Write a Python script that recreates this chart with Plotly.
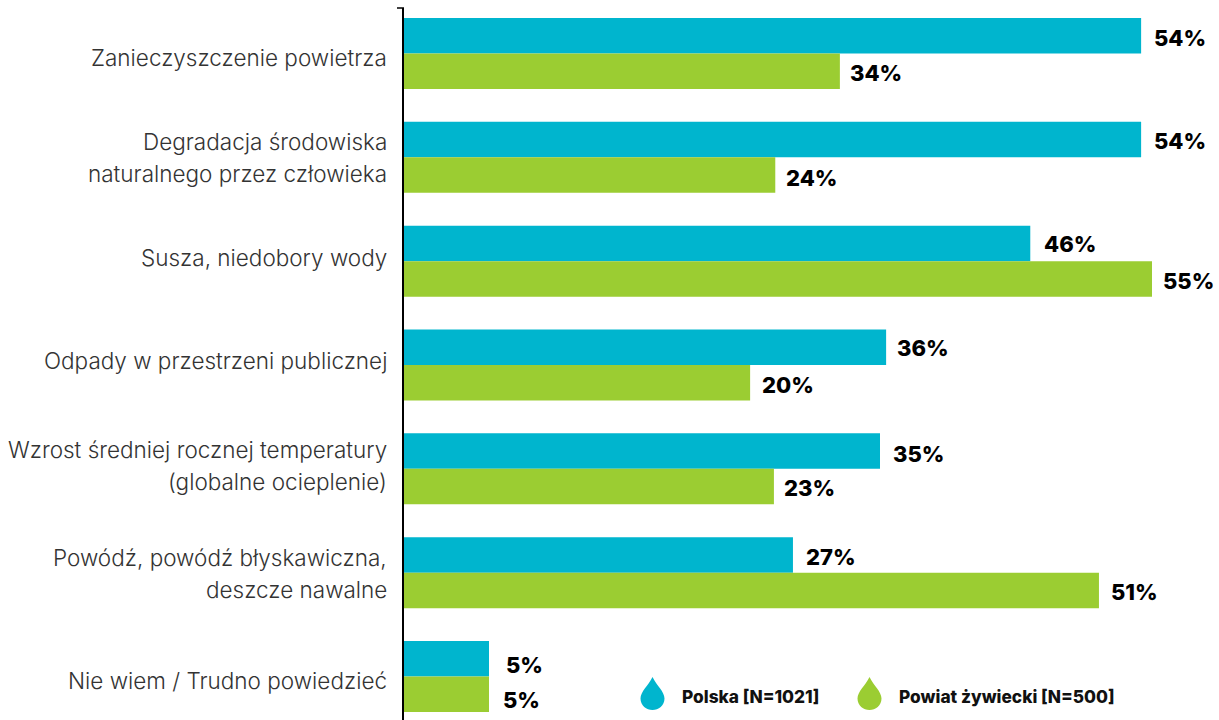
import plotly.graph_objects as go

categories = [
    "Zanieczyszczenie powietrza",
    "Degradacja środowiska<br>naturalnego przez człowieka",
    "Susza, niedobory wody",
    "Odpady w przestrzeni publicznej",
    "Wzrost średniej rocznej temperatury<br>(globalne ocieplenie)",
    "Powódź, powódź błyskawiczna,<br>deszcze nawalne",
    "Nie wiem / Trudno powiedzieć",
]
# Bar lengths as drawn in the picture, and the labels printed beside them
polska_bars = [54.2, 54.2, 46.05, 35.45, 35.0, 28.6, 6.25]
powiat_bars = [32.05, 27.3, 55.0, 25.45, 27.2, 51.1, 6.25]
polska_labels = ["54%", "54%", "46%", "36%", "35%", "27%", "5%"]
powiat_labels = ["34%", "24%", "55%", "20%", "23%", "51%", "5%"]
series_names = ["Polska [N=1021]", "Powiat żywiecki [N=500]"]

BLUE = "#00B5CE"
GREEN = "#9BCD32"
FONT = "Inter"
LEFT = 404
PX_PER_UNIT = 13.6

fig = go.Figure()
fig.add_trace(go.Bar(y=categories, x=polska_bars, name=series_names[0], orientation="h",
                     marker=dict(color=BLUE, line_width=0), showlegend=False))
fig.add_trace(go.Bar(y=categories, x=powiat_bars, name=series_names[1], orientation="h",
                     marker=dict(color=GREEN, line_width=0), showlegend=False))

annotations = []
cat_nudge = [-4, 0, 4, 4, 3.5, -0.5, -4]
polska_gap = [11, 11, 12, 9, 11, 11, 15]
powiat_gap = [8, 9, 9, 10, 8, 10, 12]
polska_dy = [15, 16, 17, 17, 15, 16, 11]
powiat_dy = [-20, -21, -20, -20, -19, -19, -24]
LINE = 16
for i, cat in enumerate(categories):
    lines = cat.split("<br>")
    for j, line in enumerate(lines):
        off = 0 if len(lines) == 1 else (LINE if j == 0 else -LINE)
        annotations.append(dict(x=0, y=cat, xref="x", yref="y", text=line, showarrow=False,
                                xanchor="right", xshift=-15, yshift=off + cat_nudge[i],
                                font=dict(family=FONT, size=22.5, color="#333333", weight=300)))
    for vals, labs, gaps, dy in ((polska_bars, polska_labels, polska_gap, polska_dy),
                                 (powiat_bars, powiat_labels, powiat_gap, powiat_dy)):
        annotations.append(dict(x=vals[i], y=cat, xref="x", yref="y", text=labs[i], showarrow=False,
                                xanchor="left", xshift=gaps[i], yshift=dy[i],
                                font=dict(family=FONT, size=22, color="#000000", weight=800)))

# Legend text
for name, px_x in zip(series_names, (680, 897)):
    annotations.append(dict(x=(px_x - LEFT) / PX_PER_UNIT, y=0.0, xref="x", yref="paper", text=name,
                            showarrow=False, xanchor="left", yanchor="middle", yshift=24,
                            font=dict(family=FONT, size=17.3, color="#111111", weight=800)))

# Drop-shaped legend keys (pixel path, y up)
drop = "M 0 16.5 C 4 8 12 2 12 -5 C 12 -12 6 -16.5 0 -16.5 C -6 -16.5 -12 -12 -12 -5 C -12 2 -4 8 0 16.5 Z"
shapes = [
    dict(type="path", xref="x", yref="paper", xsizemode="pixel", ysizemode="pixel",
         xanchor=(px - LEFT) / PX_PER_UNIT, yanchor=26.5 / 712, path=drop,
         fillcolor=c, line_width=0, layer="above")
    for px, c in ((652.5, BLUE), (869.5, GREEN))
]
# Axis end tick
shapes.append(dict(type="line", xref="paper", yref="paper", x0=-7 / 815, x1=0, y0=1, y1=1,
                   line=dict(color="#000000", width=1.5)))

fig.update_layout(
    width=1219, height=720,
    margin=dict(l=LEFT, r=0, t=8, b=0),
    barmode="group", bargap=0.316, bargroupgap=0,
    plot_bgcolor="white", paper_bgcolor="white",
    xaxis=dict(range=[0, 815 / PX_PER_UNIT], visible=False),
    yaxis=dict(range=[6.419, -0.438], type="category", showticklabels=False, ticks="",
               showgrid=False, zeroline=False, showline=True, linecolor="#000000", linewidth=1.5),
    annotations=annotations, shapes=shapes,
    font=dict(family=FONT),
)
fig.write_html("out.html", config=dict(displayModeBar=False),
               post_script="document.body.style.margin='0';document.body.style.overflow='hidden';")
